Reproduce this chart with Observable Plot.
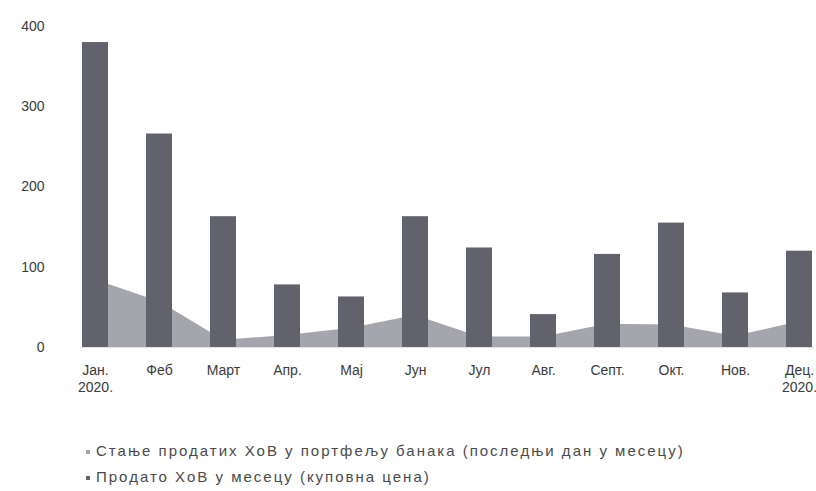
<!DOCTYPE html>
<html><head><meta charset="utf-8">
<script src="https://cdn.jsdelivr.net/npm/d3@7"></script>
<script src="https://cdn.jsdelivr.net/npm/@observablehq/plot@0.6"></script>
<style>
body{margin:0;background:#fff;font-family:"Liberation Sans",Arial,sans-serif;width:816px;height:491px;overflow:hidden;position:relative;}
#chart{position:absolute;left:0;top:0;}
.legend{position:absolute;left:86px;font-size:15px;color:#4a4a4a;letter-spacing:2px;white-space:nowrap;line-height:18px;}
.sw{display:inline-block;width:4px;height:4px;margin-right:6px;vertical-align:middle;}
</style></head><body>
<div id="chart"></div>
<div class="legend" style="top:442px"><span class="sw" style="background:#a3a3ab"></span>Стање продатих ХоВ у портфељу банака (последњи дан у месецу)</div>
<div class="legend" style="top:468px"><span class="sw" style="background:#62626c"></span>Продато ХоВ у месецу (куповна цена)</div>
<script>
const months = ["Јан.\n2020.","Феб","Март","Апр.","Мај","Јун","Јул","Авг.","Септ.","Окт.","Нов.","Дец.\n2020."];
const sold = [380,266,163,78,63,163,124,41,116,155,68,120];
const stock = [84,57,9,15,24,40,13,13,29,28,14,32];
const yTicks = [0,100,200,300,400];

const data = months.map((m,i)=>({m, sold: sold[i], stock: stock[i]}));

const chart = Plot.plot({
  width: 816,
  height: 400,
  marginLeft: 80,
  marginRight: 2,
  marginTop: 26,
  marginBottom: 53,
  style: {fontFamily: '"Liberation Sans", Arial, sans-serif', color: "#3a3a3a", background: "#fff"},
  x: {domain: months, paddingInner: 0.6, paddingOuter: 0, align: 0.5, label: null},
  y: {domain: [0, 400], label: null},
  marks: [
    Plot.areaY(data, {x: "m", y: "stock", fill: "#a5a5ad"}),
    Plot.ruleY([0], {stroke: "#e2e2e2"}),
    Plot.barY(data, {x: "m", y: "sold", fill: "#62626c"}),
    Plot.axisY({ticks: yTicks, tickSize: 0, tickPadding: 36, fontSize: 14, label: null}),
    Plot.axisX({tickSize: 0, tickPadding: 16, fontSize: 14, lineHeight: 1.2, label: null})
  ]
});
document.getElementById("chart").appendChild(chart);
</script>
</body></html>
